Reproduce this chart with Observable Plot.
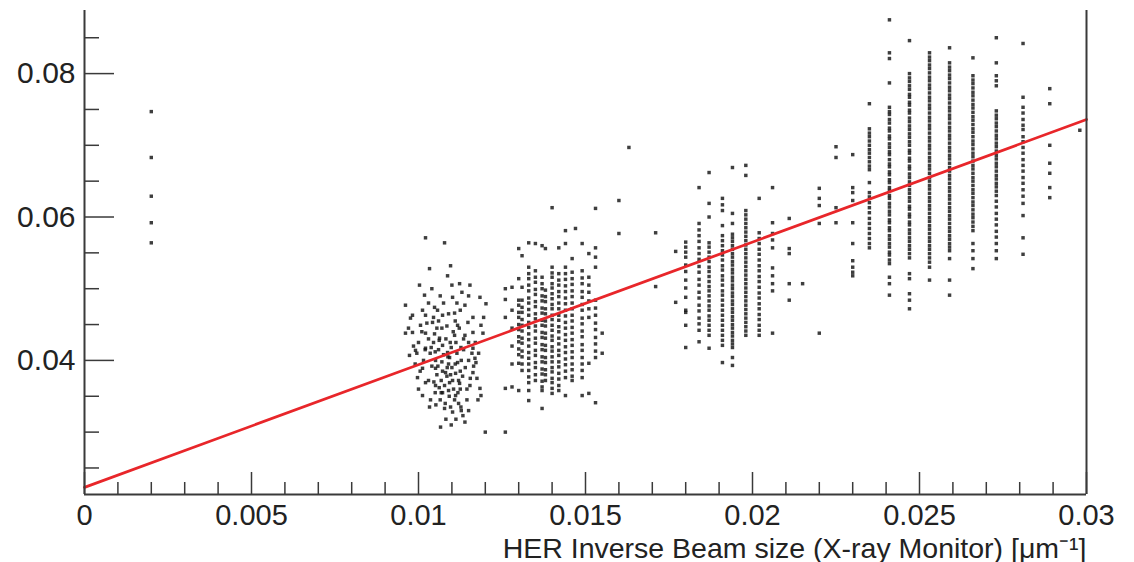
<!DOCTYPE html>
<html><head><meta charset="utf-8">
<script src="https://cdn.jsdelivr.net/npm/d3@7"></script>
<script src="https://cdn.jsdelivr.net/npm/@observablehq/plot@0.6"></script>
<style>html,body{margin:0;padding:0;background:#fff;overflow:hidden;}</style>
</head><body><div id="chart"></div>
<script>
// Column x positions (quantized inverse beam size) and the y values read in each column
const colX = [0.0020, 0.0120, 0.0126, 0.0128, 0.0130, 0.0131, 0.0133, 0.0135, 0.0137, 0.0138,
  0.0140, 0.0142, 0.0144, 0.0146, 0.0147, 0.0149, 0.0151, 0.0153, 0.0155, 0.0160,
  0.0163, 0.0171, 0.0177, 0.0180, 0.0184, 0.0187, 0.0191, 0.0194, 0.0198, 0.0202,
  0.0206, 0.0211, 0.0215, 0.0220, 0.0225, 0.0230, 0.0235, 0.0241, 0.0247, 0.0253,
  0.0259, 0.0266, 0.0273, 0.0281, 0.0289, 0.0298];
const colY = [
  [0.0747, 0.0683, 0.0629, 0.0592, 0.0564],
  [0.0300],
  [0.0500, 0.0460, 0.0361, 0.0300, 0.0485],
  [0.0363, 0.0502, 0.0470, 0.0445, 0.0420, 0.0395],
  [0.0556, 0.0514, 0.0484, 0.0477, 0.0467, 0.0460, 0.0450, 0.0443, 0.0433, 0.0426, 0.0416, 0.0408, 0.0396, 0.0358],
  [0.0546, 0.0502, 0.0484, 0.0474, 0.0467, 0.0457, 0.0449, 0.0441, 0.0431, 0.0424, 0.0413, 0.0405, 0.0395, 0.0386],
  [0.0564, 0.0530, 0.0521, 0.0514, 0.0505, 0.0497, 0.0487, 0.0480, 0.0471, 0.0463, 0.0453, 0.0446, 0.0437, 0.0429, 0.0420, 0.0411, 0.0403, 0.0395, 0.0386, 0.0377, 0.0369, 0.0358, 0.0344],
  [0.0563, 0.0525, 0.0516, 0.0509, 0.0499, 0.0492, 0.0482, 0.0475, 0.0465, 0.0458, 0.0448, 0.0441, 0.0431, 0.0424, 0.0414, 0.0407, 0.0397, 0.0390, 0.0380, 0.0372],
  [0.0560, 0.0516, 0.0507, 0.0500, 0.0490, 0.0483, 0.0473, 0.0466, 0.0456, 0.0449, 0.0439, 0.0432, 0.0422, 0.0415, 0.0405, 0.0398, 0.0388, 0.0381, 0.0371, 0.0363, 0.0358, 0.0333],
  [0.0556, 0.0498, 0.0489, 0.0482, 0.0472, 0.0465, 0.0455, 0.0448, 0.0438, 0.0431, 0.0421, 0.0414, 0.0404, 0.0397, 0.0387, 0.0380, 0.0372],
  [0.0613, 0.0530, 0.0522, 0.0516, 0.0507, 0.0501, 0.0493, 0.0486, 0.0478, 0.0472, 0.0463, 0.0457, 0.0449, 0.0442, 0.0434, 0.0428, 0.0419, 0.0413, 0.0405, 0.0398, 0.0390, 0.0384, 0.0375, 0.0369, 0.0361, 0.0354],
  [0.0557, 0.0521, 0.0512, 0.0505, 0.0496, 0.0489, 0.0480, 0.0472, 0.0463, 0.0456, 0.0447, 0.0440, 0.0431, 0.0423, 0.0414, 0.0407, 0.0398, 0.0391, 0.0382, 0.0374, 0.0365, 0.0358],
  [0.0581, 0.0563, 0.0530, 0.0521, 0.0513, 0.0504, 0.0496, 0.0487, 0.0479, 0.0470, 0.0462, 0.0453, 0.0445, 0.0436, 0.0428, 0.0419, 0.0411, 0.0402, 0.0394, 0.0385, 0.0376, 0.0351],
  [0.0542, 0.0523, 0.0514, 0.0506, 0.0497, 0.0489, 0.0480, 0.0472, 0.0463, 0.0455, 0.0446, 0.0438, 0.0429, 0.0421, 0.0412, 0.0404, 0.0395, 0.0387, 0.0378, 0.0372],
  [0.0584],
  [0.0563, 0.0525, 0.0515, 0.0507, 0.0496, 0.0488, 0.0478, 0.0470, 0.0459, 0.0451, 0.0441, 0.0433, 0.0422, 0.0414, 0.0404, 0.0395, 0.0386, 0.0376, 0.0351],
  [0.0549, 0.0516, 0.0505, 0.0495, 0.0483, 0.0472, 0.0460, 0.0396, 0.0354],
  [0.0612, 0.0557, 0.0544, 0.0530, 0.0484, 0.0473, 0.0463, 0.0452, 0.0443, 0.0432, 0.0423, 0.0413, 0.0404, 0.0341],
  [0.0438, 0.0410],
  [0.0623, 0.0577],
  [0.0697],
  [0.0578, 0.0503],
  [0.0552, 0.0481],
  [0.0565, 0.0558, 0.0551, 0.0544, 0.0533, 0.0524, 0.0512, 0.0501, 0.0488, 0.0470, 0.0467, 0.0449, 0.0418],
  [0.0641, 0.0591, 0.0582, 0.0574, 0.0566, 0.0557, 0.0549, 0.0541, 0.0531, 0.0523, 0.0513, 0.0505, 0.0495, 0.0487, 0.0477, 0.0469, 0.0459, 0.0451, 0.0442, 0.0426],
  [0.0662, 0.0619, 0.0600, 0.0564, 0.0558, 0.0551, 0.0544, 0.0538, 0.0530, 0.0524, 0.0517, 0.0510, 0.0503, 0.0497, 0.0490, 0.0483, 0.0476, 0.0470, 0.0462, 0.0456, 0.0449, 0.0442, 0.0435, 0.0417],
  [0.0626, 0.0617, 0.0609, 0.0588, 0.0574, 0.0567, 0.0560, 0.0553, 0.0547, 0.0540, 0.0532, 0.0526, 0.0518, 0.0512, 0.0505, 0.0497, 0.0491, 0.0484, 0.0477, 0.0470, 0.0463, 0.0456, 0.0449, 0.0442, 0.0435, 0.0428, 0.0421, 0.0397],
  [0.0669, 0.0605, 0.0591, 0.0576, 0.0571, 0.0566, 0.0560, 0.0555, 0.0549, 0.0544, 0.0538, 0.0533, 0.0527, 0.0522, 0.0516, 0.0511, 0.0505, 0.0500, 0.0494, 0.0489, 0.0483, 0.0478, 0.0472, 0.0467, 0.0461, 0.0456, 0.0450, 0.0445, 0.0439, 0.0434, 0.0428, 0.0423, 0.0418, 0.0404, 0.0393],
  [0.0672, 0.0658, 0.0609, 0.0603, 0.0597, 0.0591, 0.0585, 0.0579, 0.0573, 0.0567, 0.0561, 0.0555, 0.0549, 0.0543, 0.0537, 0.0531, 0.0525, 0.0519, 0.0513, 0.0507, 0.0501, 0.0495, 0.0489, 0.0483, 0.0477, 0.0471, 0.0465, 0.0459, 0.0453, 0.0447, 0.0441, 0.0435],
  [0.0626, 0.0578, 0.0570, 0.0563, 0.0555, 0.0548, 0.0540, 0.0532, 0.0525, 0.0517, 0.0510, 0.0502, 0.0494, 0.0487, 0.0479, 0.0472, 0.0464, 0.0457, 0.0449, 0.0442, 0.0435],
  [0.0641, 0.0592, 0.0577, 0.0568, 0.0557, 0.0529, 0.0518, 0.0507, 0.0497, 0.0438],
  [0.0598, 0.0556, 0.0549, 0.0507, 0.0484],
  [0.0507],
  [0.0640, 0.0626, 0.0616, 0.0591, 0.0438],
  [0.0698, 0.0683, 0.0613, 0.0592],
  [0.0687, 0.0641, 0.0634, 0.0623, 0.0592, 0.0563, 0.0539, 0.0530, 0.0523, 0.0518],
  [0.0758, 0.0723, 0.0717, 0.0712, 0.0706, 0.0700, 0.0694, 0.0689, 0.0683, 0.0677, 0.0671, 0.0666, 0.0648, 0.0634, 0.0628, 0.0620, 0.0613, 0.0606, 0.0598, 0.0591, 0.0584, 0.0577, 0.0570, 0.0563, 0.0557],
  [0.0875, 0.0829, 0.0821, 0.0787, 0.0753, 0.0747, 0.0743, 0.0736, 0.0731, 0.0724, 0.0720, 0.0713, 0.0709, 0.0702, 0.0697, 0.0691, 0.0687, 0.0680, 0.0674, 0.0670, 0.0663, 0.0659, 0.0652, 0.0648, 0.0641, 0.0637, 0.0630, 0.0626, 0.0619, 0.0614, 0.0608, 0.0603, 0.0596, 0.0592, 0.0585, 0.0581, 0.0574, 0.0569, 0.0563, 0.0558, 0.0551, 0.0547, 0.0540, 0.0535, 0.0516, 0.0507, 0.0491],
  [0.0846, 0.0800, 0.0794, 0.0789, 0.0783, 0.0778, 0.0771, 0.0767, 0.0760, 0.0756, 0.0749, 0.0745, 0.0738, 0.0733, 0.0727, 0.0722, 0.0716, 0.0711, 0.0705, 0.0700, 0.0693, 0.0689, 0.0682, 0.0678, 0.0671, 0.0667, 0.0660, 0.0655, 0.0649, 0.0644, 0.0638, 0.0633, 0.0627, 0.0622, 0.0615, 0.0611, 0.0604, 0.0600, 0.0593, 0.0589, 0.0582, 0.0577, 0.0571, 0.0566, 0.0560, 0.0555, 0.0549, 0.0543, 0.0521, 0.0514, 0.0493, 0.0484, 0.0472],
  [0.0829, 0.0823, 0.0818, 0.0812, 0.0807, 0.0801, 0.0795, 0.0790, 0.0784, 0.0779, 0.0773, 0.0767, 0.0762, 0.0756, 0.0751, 0.0745, 0.0739, 0.0734, 0.0728, 0.0723, 0.0717, 0.0711, 0.0706, 0.0700, 0.0695, 0.0689, 0.0683, 0.0678, 0.0672, 0.0667, 0.0661, 0.0655, 0.0650, 0.0644, 0.0639, 0.0633, 0.0627, 0.0622, 0.0616, 0.0611, 0.0605, 0.0599, 0.0594, 0.0588, 0.0583, 0.0577, 0.0571, 0.0566, 0.0560, 0.0555, 0.0549, 0.0543, 0.0537, 0.0530, 0.0512],
  [0.0836, 0.0815, 0.0809, 0.0804, 0.0798, 0.0793, 0.0787, 0.0781, 0.0776, 0.0770, 0.0765, 0.0759, 0.0753, 0.0748, 0.0742, 0.0737, 0.0731, 0.0725, 0.0720, 0.0714, 0.0709, 0.0703, 0.0697, 0.0692, 0.0686, 0.0681, 0.0675, 0.0669, 0.0664, 0.0658, 0.0653, 0.0647, 0.0641, 0.0636, 0.0630, 0.0625, 0.0619, 0.0613, 0.0608, 0.0602, 0.0597, 0.0591, 0.0585, 0.0580, 0.0574, 0.0569, 0.0563, 0.0558, 0.0553, 0.0542, 0.0512, 0.0491],
  [0.0822, 0.0797, 0.0791, 0.0786, 0.0780, 0.0774, 0.0769, 0.0763, 0.0757, 0.0752, 0.0746, 0.0740, 0.0735, 0.0729, 0.0723, 0.0718, 0.0712, 0.0706, 0.0701, 0.0695, 0.0689, 0.0684, 0.0678, 0.0672, 0.0667, 0.0661, 0.0655, 0.0650, 0.0644, 0.0638, 0.0633, 0.0627, 0.0621, 0.0616, 0.0610, 0.0604, 0.0599, 0.0593, 0.0587, 0.0581, 0.0563, 0.0553, 0.0542, 0.0528],
  [0.0850, 0.0815, 0.0797, 0.0790, 0.0783, 0.0748, 0.0742, 0.0737, 0.0731, 0.0726, 0.0720, 0.0714, 0.0709, 0.0703, 0.0698, 0.0692, 0.0686, 0.0681, 0.0675, 0.0670, 0.0664, 0.0658, 0.0653, 0.0647, 0.0642, 0.0636, 0.0630, 0.0622, 0.0614, 0.0605, 0.0597, 0.0589, 0.0580, 0.0572, 0.0563, 0.0553, 0.0542],
  [0.0842, 0.0767, 0.0753, 0.0745, 0.0736, 0.0728, 0.0722, 0.0712, 0.0705, 0.0697, 0.0689, 0.0680, 0.0672, 0.0664, 0.0655, 0.0647, 0.0638, 0.0629, 0.0619, 0.0602, 0.0571, 0.0548],
  [0.0779, 0.0758, 0.0700, 0.0675, 0.0661, 0.0641, 0.0627],
  [0.0721]
];
// Unquantized blob of points near x = 0.010–0.012
const blobPts = [
  [0.01021,0.0571],[0.01078,0.0564],[0.01033,0.0528],[0.01096,0.0532],[0.01087,0.0518],[0.01003,0.0505],[0.01123,0.0507],[0.01154,0.0505],
  [0.01018,0.0491],[0.01102,0.0488],[0.00961,0.0477],[0.01048,0.0474],[0.01139,0.0477],[0.01184,0.0488],[0.01202,0.0479],[0.00976,0.0459],
  [0.01021,0.0463],[0.01072,0.0463],[0.01117,0.0449],[0.01163,0.0460],[0.01187,0.0449],[0.00982,0.0439],[0.00961,0.0438],[0.01021,0.0438],
  [0.01063,0.0431],[0.01108,0.0435],[0.01139,0.0435],[0.01163,0.0439],[0.01193,0.0438],[0.00991,0.0414],[0.01021,0.0417],[0.01072,0.0421],
  [0.01087,0.0411],[0.01127,0.0418],[0.01163,0.0417],[0.01051,0.0400],[0.01093,0.0404],[0.01117,0.0397],[0.01169,0.0403],[0.01012,0.0389],
  [0.01051,0.0389],[0.01081,0.0383],[0.01111,0.0382],[0.01172,0.0397],[0.01163,0.0383],[0.01021,0.0369],[0.01051,0.0365],[0.01093,0.0369],
  [0.01123,0.0368],[0.01184,0.0361],[0.01012,0.0351],[0.01072,0.0355],[0.01111,0.0351],[0.01187,0.0351],[0.01033,0.0335],[0.01078,0.0333],
  [0.01127,0.0335],[0.01133,0.0323],[0.01139,0.0314],[0.01102,0.0328],[0.01066,0.0307],[0.01154,0.0365],[0.01042,0.0453],[0.00997,0.0376],
  [0.00973,0.0407],[0.01006,0.0449],[0.01057,0.0470],[0.01108,0.0466],[0.01148,0.0453],[0.00982,0.0463],
  [0.01045,0.0425],[0.01060,0.0415],[0.01075,0.0408],[0.01090,0.0395],[0.01100,0.0390],[0.01085,0.0378],[0.01068,0.0372],[0.01055,0.0380],
  [0.01040,0.0392],[0.01035,0.0410],[0.01098,0.0418],[0.01115,0.0410],[0.01128,0.0400],[0.01140,0.0390],[0.01132,0.0378],[0.01120,0.0372],
  [0.01105,0.0360],[0.01090,0.0358],[0.01065,0.0345],[0.01080,0.0340],[0.01050,0.0355],[0.01030,0.0372],[0.01015,0.0400],[0.01030,0.0430],
  [0.01055,0.0445],[0.01085,0.0448],[0.01110,0.0455],[0.01125,0.0470],[0.01150,0.0425],[0.01160,0.0410],[0.01000,0.0425],[0.00990,0.0395],
  [0.01175,0.0375],[0.01145,0.0345],[0.01120,0.0340],[0.01000,0.0360],[0.01075,0.0480],[0.01040,0.0500],[0.01100,0.0505],[0.01150,0.0490],
  [0.01010,0.0440],[0.01025,0.0452],[0.01038,0.0418],[0.01048,0.0437],[0.01062,0.0428],[0.01070,0.0398],[0.01082,0.0430],[0.01095,0.0425],
  [0.01104,0.0440],[0.01112,0.0425],[0.01122,0.0445],[0.01135,0.0430],[0.01058,0.0392],[0.01072,0.0385],[0.01086,0.0390],[0.01096,0.0380],
  [0.01110,0.0395],[0.01125,0.0385],[0.01046,0.0370],[0.01062,0.0362],[0.01078,0.0365],[0.01092,0.0350],[0.01108,0.0345],[0.01118,0.0355],
  [0.01036,0.0345],[0.01052,0.0338],[0.01096,0.0335],[0.01112,0.0318],[0.01128,0.0330],[0.01020,0.0415],[0.01005,0.0385],[0.00995,0.0410],
  [0.01150,0.0400],[0.01170,0.0425],[0.01180,0.0410],[0.01165,0.0392],[0.01155,0.0375],[0.01145,0.0360],[0.01060,0.0455],[0.01090,0.0465],
  [0.01115,0.0480],[0.01030,0.0480],[0.01065,0.0490],[0.01130,0.0495],[0.00985,0.0420],[0.00970,0.0445],[0.01195,0.0460],[0.01178,0.0345],
  [0.01082,0.0318],[0.01098,0.0310],[0.01150,0.0330],[0.01070,0.0445],[0.01045,0.0460],[0.01012,0.0470],[0.01135,0.0415],[0.01102,0.0372],
  [0.01068,0.0355],[0.01088,0.0405],[0.01050,0.0412],[0.01125,0.0360]
];
// Linear fit
const fitX = [0, 0.03];
const fitY = [0.0223, 0.0736];
// Axes
const xDomain = [0, 0.03];
const yDomain = [0.0213, 0.0888];
const xMajor = [0, 0.005, 0.01, 0.015, 0.02, 0.025, 0.03];
const xMinor = [0.001, 0.002, 0.003, 0.004, 0.006, 0.007, 0.008, 0.009, 0.011, 0.012, 0.013, 0.014,
  0.016, 0.017, 0.018, 0.019, 0.021, 0.022, 0.023, 0.024, 0.026, 0.027, 0.028, 0.029];
const yMajor = [0.04, 0.06, 0.08];
const yMinor = [0.025, 0.03, 0.035, 0.045, 0.05, 0.055, 0.065, 0.07, 0.075, 0.085];
const xLabel = "HER Inverse Beam size (X-ray Monitor) [\u03BCm\u207B\u00B9]";

const points = colX.flatMap((x, i) => colY[i].map(y => ({x, y})))
  .concat(blobPts.map(([x, y]) => ({x, y})));
const fit = fitX.map((x, i) => ({x, y: fitY[i]}));

const axisColor = "#3a3a3a";
const chart = Plot.plot({
  width: 1134, height: 562,
  marginLeft: 84, marginRight: 48, marginTop: 10, marginBottom: 68,
  style: {fontFamily: "'Liberation Sans', Arial, sans-serif", fontSize: "29px", color: "#222", background: "#fff"},
  x: {domain: xDomain},
  y: {domain: yDomain},
  marks: [
    Plot.dot(points, {x: "x", y: "y", symbol: "square", r: 1.95, fill: "#141414", fillOpacity: 0.82, stroke: "none"}),
    Plot.line(fit, {x: "x", y: "y", stroke: "#e8262a", strokeWidth: 2.8}),
    Plot.ruleX(xDomain, {stroke: axisColor, strokeWidth: 2}),
    Plot.ruleY([yDomain[0]], {stroke: axisColor, strokeWidth: 2}),
    Plot.axisX(xMinor, {tickSize: -12, fill: "none", stroke: axisColor, strokeWidth: 1.5, label: null}),
    Plot.axisX(xMajor, {tickSize: -22, fill: "none", stroke: axisColor, strokeWidth: 1.5, label: null}),
    Plot.axisX(xMajor, {tickSize: 0, tickPadding: 10, tickFormat: d => String(d), fill: "#222", label: null, fontSize: 29}),
    Plot.axisY(yMinor, {tickSize: -15, fill: "none", stroke: axisColor, strokeWidth: 1.5, label: null}),
    Plot.axisY(yMajor, {tickSize: -30, fill: "none", stroke: axisColor, strokeWidth: 1.5, label: null}),
    Plot.axisY(yMajor, {tickSize: 0, tickPadding: 9, tickFormat: d => String(d), fill: "#222", label: null, fontSize: 30}),
    Plot.text([xLabel], {frameAnchor: "bottom-right", dy: 63, textAnchor: "end", fontSize: 28.5, fill: "#222"})
  ]
});
document.getElementById("chart").append(chart);
</script>
</body></html>
